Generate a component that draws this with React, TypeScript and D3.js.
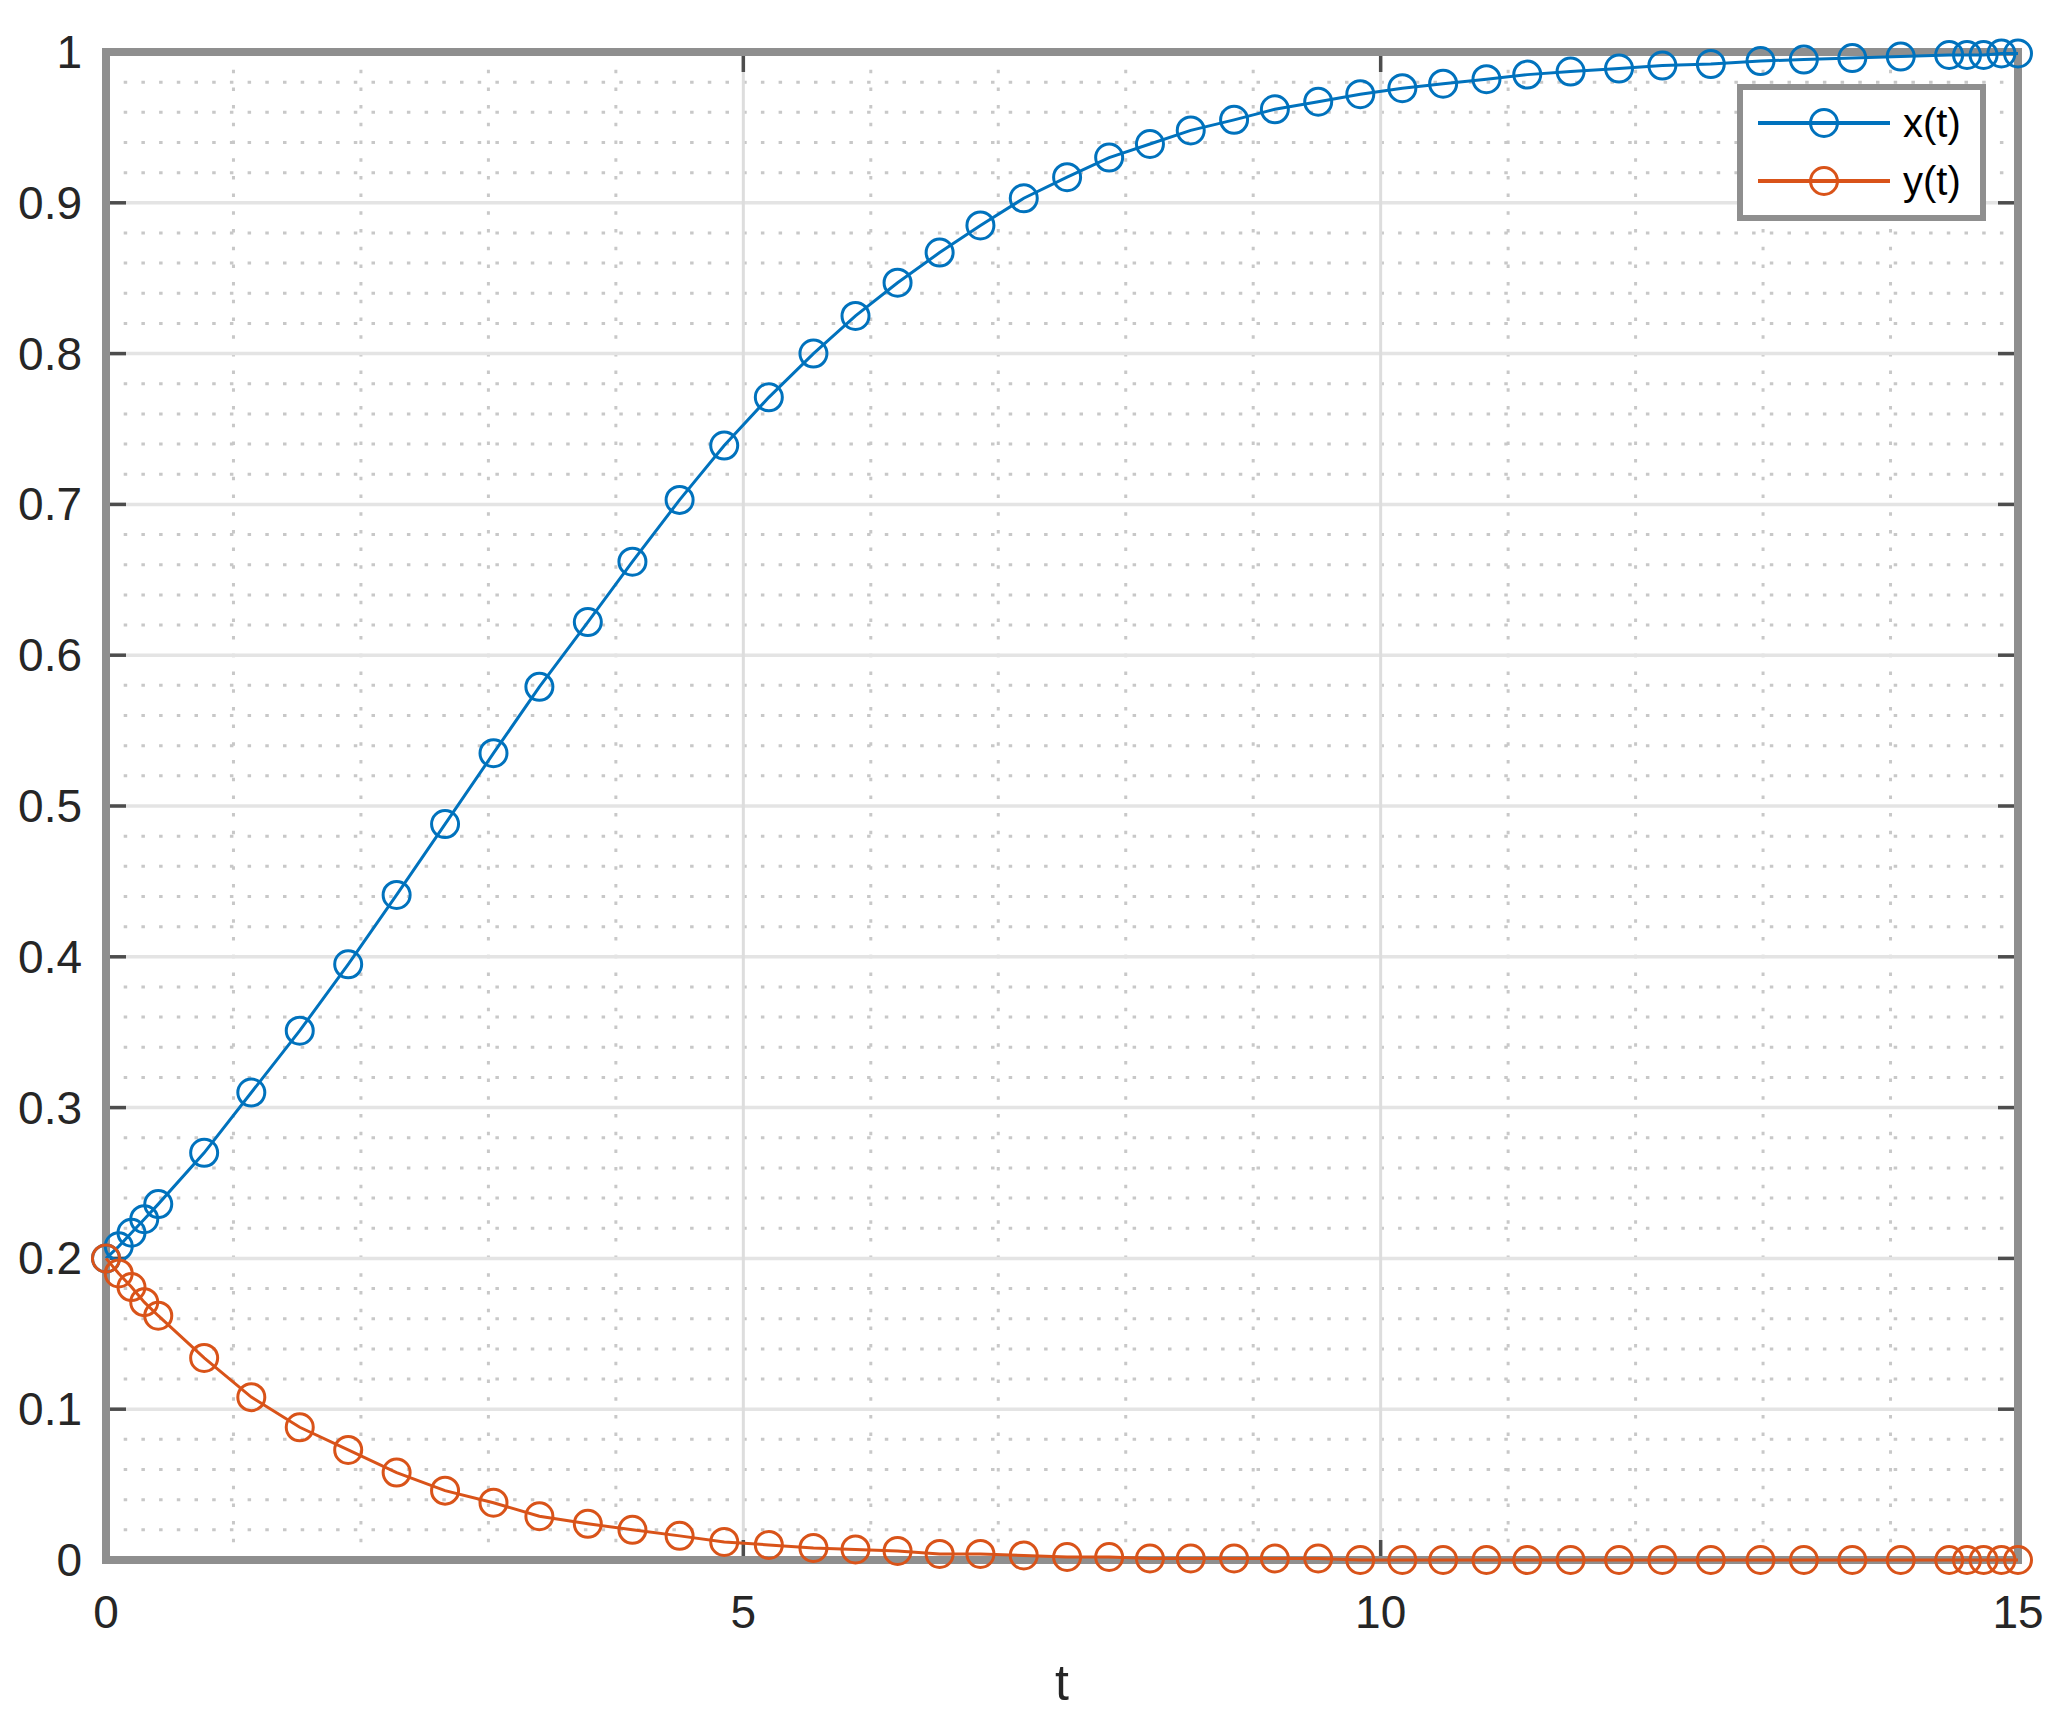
import * as d3 from 'd3';

const tValues = [
  0, 0.1, 0.2, 0.3, 0.41, 0.77, 1.14, 1.52, 1.9, 2.28, 2.66, 3.04, 3.4, 3.78, 4.13, 4.5,
  4.85, 5.2, 5.55, 5.88, 6.21, 6.54, 6.86, 7.2, 7.54, 7.87, 8.19, 8.51, 8.85, 9.17, 9.51,
  9.84, 10.17, 10.49, 10.83, 11.15, 11.49, 11.87, 12.21, 12.59, 12.98, 13.32, 13.7, 14.08,
  14.46, 14.6, 14.73, 14.87, 15,
];

const xValues = [
  0.2, 0.208, 0.217, 0.226, 0.236, 0.27, 0.31, 0.351, 0.395, 0.441, 0.488, 0.535, 0.579,
  0.622, 0.662, 0.703, 0.739, 0.771, 0.8, 0.825, 0.847, 0.867, 0.885, 0.903, 0.917, 0.93,
  0.939, 0.948, 0.955, 0.962, 0.967, 0.972, 0.976, 0.979, 0.982, 0.985, 0.987, 0.989,
  0.991, 0.992, 0.994, 0.995, 0.996, 0.997, 0.998, 0.998, 0.998, 0.999, 0.999,
];

const yValues = [
  0.2, 0.19, 0.181, 0.171, 0.162, 0.134, 0.108, 0.088, 0.073, 0.058, 0.046, 0.038, 0.029,
  0.024, 0.02, 0.016, 0.012, 0.01, 0.008, 0.007, 0.006, 0.004, 0.004, 0.003, 0.002, 0.002,
  0.001, 0.001, 0.001, 0.001, 0.001, 0.0, 0.0, 0.0, 0.0, 0.0, 0.0, 0.0, 0.0, 0.0, 0.0, 0.0,
  0.0, 0.0, 0.0, 0.0, 0.0, 0.0, 0.0,
];

const seriesNames = ['x(t)', 'y(t)'];
const seriesColors = ['#0072BD', '#D95319'];

const xTicks = [0, 5, 10, 15];
const yTicks = [0, 0.1, 0.2, 0.3, 0.4, 0.5, 0.6, 0.7, 0.8, 0.9, 1];
const xMinor = d3.range(1, 15).filter((d) => d % 5 !== 0);
const yMinor = d3.range(1, 50).filter((d) => d % 5 !== 0).map((d) => d / 50);

const font = '"Liberation Sans", Arial, Helvetica, sans-serif';
const textColor = '#262626';

export default function App() {
  const width = 2059;
  const height = 1730;
  const left = 106;
  const right = 2018;
  const top = 52;
  const bottom = 1560;

  const x = d3.scaleLinear().domain([0, 15]).range([left, right]);
  const y = d3.scaleLinear().domain([0, 1]).range([bottom, top]);

  const series = [xValues, yValues].map((vals) => tValues.map((t, i) => [t, vals[i]] as [number, number]));
  const line = d3
    .line<[number, number]>()
    .x((d) => x(d[0]))
    .y((d) => y(d[1]));

  const tickLen = 20;
  const r = 13.5;

  return (
    <svg
      width={width}
      height={height}
      style={{ position: 'absolute', left: 0, top: 0, background: '#fff' }}
      fontFamily={font}
    >
      <rect x={0} y={0} width={width} height={height} fill="#fff" />

      {/* minor grid, dotted */}
      {yMinor.map((v) => (
        <line key={'ym' + v} x1={left} x2={right} y1={y(v)} y2={y(v)} stroke="#c8c8c8" strokeWidth={3} strokeDasharray="3.5,14.2" />
      ))}
      {xMinor.map((t) => (
        <line key={'xm' + t} x1={x(t)} x2={x(t)} y1={bottom} y2={top} stroke="#c8c8c8" strokeWidth={3} strokeDasharray="3.5,14.2" />
      ))}

      {/* major grid */}
      {yTicks.map((v) => (
        <line key={'yg' + v} x1={left} x2={right} y1={y(v)} y2={y(v)} stroke="#e4e4e4" strokeWidth={3.5} />
      ))}
      {xTicks.map((t) => (
        <line key={'xg' + t} x1={x(t)} x2={x(t)} y1={bottom} y2={top} stroke="#dddddd" strokeWidth={3} />
      ))}

      {/* ticks */}
      {yTicks.map((v) => (
        <g key={'yt' + v} stroke="#4d4d4d" strokeWidth={3.5}>
          <line x1={left} x2={left + tickLen} y1={y(v)} y2={y(v)} />
          <line x1={right} x2={right - tickLen} y1={y(v)} y2={y(v)} />
        </g>
      ))}
      {xTicks.map((t) => (
        <g key={'xt' + t} stroke="#4d4d4d" strokeWidth={3.5}>
          <line x1={x(t)} x2={x(t)} y1={bottom} y2={bottom - tickLen} />
          <line x1={x(t)} x2={x(t)} y1={top} y2={top + tickLen} />
        </g>
      ))}

      {/* frame */}
      <rect x={left} y={top} width={right - left} height={bottom - top} fill="none" stroke="#8f8f8f" strokeWidth={8} />

      {/* tick labels */}
      {yTicks.map((v) => (
        <text key={'yl' + v} x={82} y={y(v)} textAnchor="end" dominantBaseline="central" fontSize={46} fill={textColor}>
          {d3.format('~g')(v)}
        </text>
      ))}
      {xTicks.map((t) => (
        <text key={'xl' + t} x={x(t)} y={1628} textAnchor="middle" fontSize={46} fill={textColor}>
          {t}
        </text>
      ))}
      <text x={(left + right) / 2} y={1700} textAnchor="middle" fontSize={50} fill={textColor}>
        t
      </text>

      {/* data */}
      {series.map((pts, i) => (
        <g key={'s' + i}>
          <path d={line(pts) ?? ''} fill="none" stroke={seriesColors[i]} strokeWidth={3} />
          {pts.map((p, j) => (
            <circle key={j} cx={x(p[0])} cy={y(p[1])} r={r} fill="none" stroke={seriesColors[i]} strokeWidth={3} />
          ))}
        </g>
      ))}

      {/* legend */}
      <rect x={1740} y={87} width={243} height={131} fill="#fff" stroke="#8f8f8f" strokeWidth={6} />
      {seriesNames.map((name, i) => {
        const ly = 123 + i * 58;
        return (
          <g key={'lg' + i}>
            <line x1={1758} x2={1890} y1={ly} y2={ly} stroke={seriesColors[i]} strokeWidth={4} />
            <circle cx={1824} cy={ly} r={r} fill="none" stroke={seriesColors[i]} strokeWidth={3} />
            <text x={1903} y={ly} dominantBaseline="central" fontSize={40} fill="#000">
              {name}
            </text>
          </g>
        );
      })}
    </svg>
  );
}
